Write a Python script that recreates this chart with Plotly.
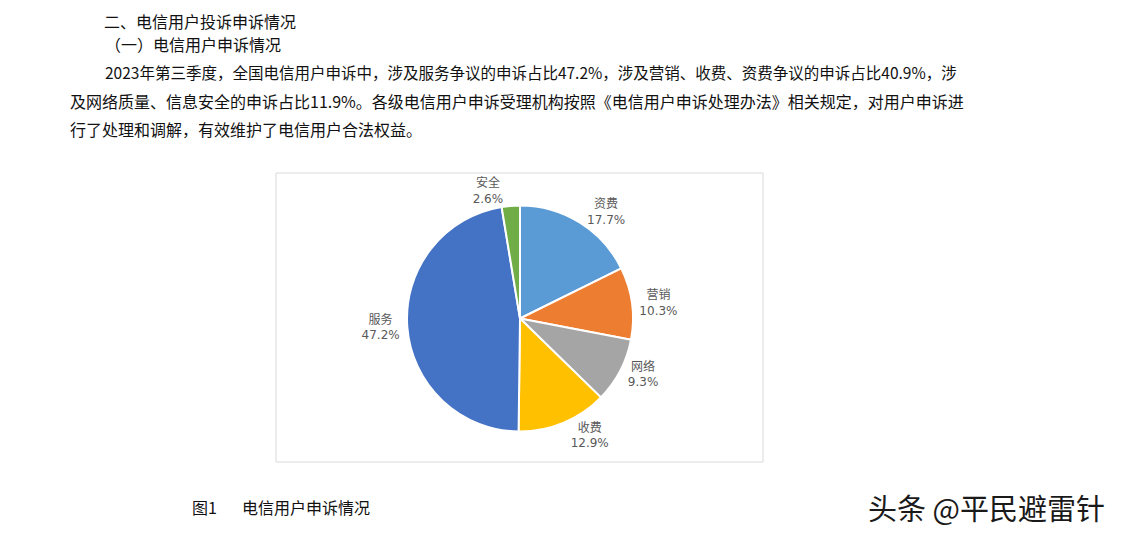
import plotly.graph_objects as go

# page body keeps its default 8px margin, so the figure is a bit smaller
W, H = 1122, 537
PAD = 8
FW, FH = W - 2 * PAD, H - 2 * PAD

# pie data, clockwise from 12 o'clock
categories = ["资费", "营销", "网络", "收费", "服务", "安全"]
shares = [17.7, 10.3, 9.3, 12.9, 47.2, 2.6]
colors = ["#5B9BD5", "#ED7D31", "#A5A5A5", "#FFC000", "#4472C4", "#70AD47"]

# document text around the chart
heading = "二、电信用户投诉申诉情况"
subheading = "（一）电信用户申诉情况"
para_lines = [
    "2023年第三季度，全国电信用户申诉中，涉及服务争议的申诉占比47.2%，涉及营销、收费、资费争议的申诉占比40.9%，涉",
    "及网络质量、信息安全的申诉占比11.9%。各级电信用户申诉受理机构按照《电信用户申诉处理办法》相关规定，对用户申诉进",
    "行了处理和调解，有效维护了电信用户合法权益。",
]
caption_no = "图1"
caption = "电信用户申诉情况"
watermark = "头条 @平民避雷针"

CJK = "Noto Sans CJK SC"


def px_x(x):
    return (x - PAD) / FW


def px_y(y):
    return 1 - (y - PAD) / FH


fig = go.Figure()
fig.add_trace(go.Pie(
    labels=categories,
    values=shares,
    sort=False,
    direction="clockwise",
    rotation=0,
    marker=dict(colors=colors, line=dict(color="white", width=2)),
    texttemplate="%{label}<br>%{value:.1f}%",
    textposition="outside",
    textfont=dict(family="DejaVu Sans, " + CJK, size=12, color="#595959"),
    domain=dict(x=[px_x(407), px_x(633)], y=[px_y(432), px_y(205)]),
    showlegend=False,
    hoverinfo="label+percent",
))

# chart frame
fig.add_shape(type="rect", xref="paper", yref="paper",
              x0=px_x(276), x1=px_x(763), y0=px_y(462), y1=px_y(173),
              line=dict(color="#D9D9D9", width=1))

# heading sits right at the top edge of the page
fig.add_annotation(x=px_x(103), y=1, xref="paper", yref="paper",
                   text=heading, showarrow=False, xanchor="left", yanchor="top",
                   borderpad=0, font=dict(family=CJK, size=16, color="#111111"))

# x, y (px), text, font size
notes = [
    (103, 44, subheading, 16),
    (103, 72, para_lines[0], 15.5),
    (68, 101, para_lines[1], 16),
    (68, 129, para_lines[2], 16),
    (190, 507, caption_no, 16),
    (240, 507, caption, 16),
]
for x, y, t, s in notes:
    fig.add_annotation(x=px_x(x), y=px_y(y), xref="paper", yref="paper",
                       text=t, showarrow=False, xanchor="left", yanchor="middle",
                       font=dict(family=CJK, size=s, color="#111111"))

fig.add_annotation(x=px_x(866), y=px_y(507), xref="paper", yref="paper",
                   text=watermark, showarrow=False, xanchor="left", yanchor="middle",
                   font=dict(family=CJK, size=29, color="#1a1a1a"))

fig.update_layout(
    width=FW, height=FH,
    margin=dict(l=0, r=0, t=0, b=0),
    paper_bgcolor="white",
    plot_bgcolor="white",
)

fig.write_html("out.html")
